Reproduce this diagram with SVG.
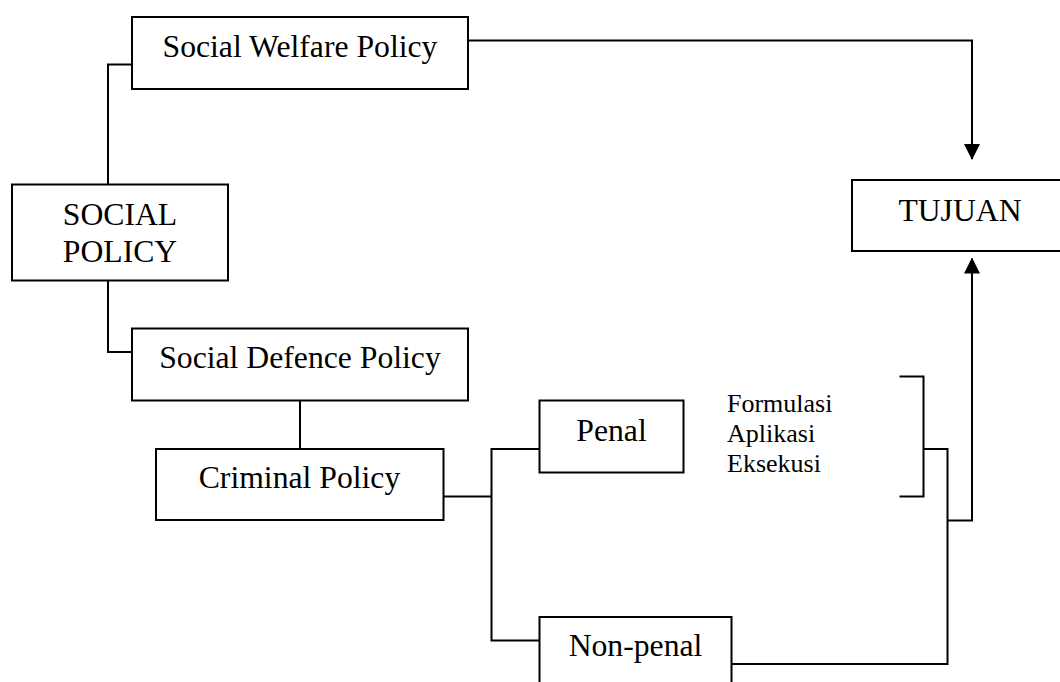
<svg xmlns="http://www.w3.org/2000/svg" width="1060" height="682" viewBox="0 0 1060 682">
  <style>
    .box { fill: #ffffff; stroke: #000000; stroke-width: 2; }
    .conn { fill: none; stroke: #000000; stroke-width: 2; }
    .lbl { font-family: "Liberation Serif", "Times New Roman", serif; font-size: 31.7px; fill: #000000; text-anchor: middle; }
    .note { font-family: "Liberation Serif", "Times New Roman", serif; font-size: 26px; fill: #000000; }
  </style>
  <defs>
    <marker id="arrow" viewBox="0 0 16 16" refX="15" refY="8" markerWidth="16" markerHeight="16" markerUnits="userSpaceOnUse" orient="auto">
      <path d="M0,0 L16,8 L0,16 z" fill="#000000"/>
    </marker>
  </defs>
  <rect width="1060" height="682" fill="#ffffff"/>

  <g id="connectors">
    <path class="conn" d="M132,64.5 H108 V184.5"/>
    <path class="conn" d="M108,280.5 V352 H132"/>
    <path class="conn" d="M300,400.5 V449"/>
    <path class="conn" d="M443.5,496.5 H491.5"/>
    <path class="conn" d="M539.5,449 H491.5 V640.5 H539.5"/>
    <path class="conn" d="M468,40.5 H972 V159" marker-end="url(#arrow)"/>
    <path class="conn" d="M899.5,376.5 H923.5 V496.5 H899.5"/>
    <path class="conn" d="M923.5,449 H947.5 V664 H731.5"/>
    <path class="conn" d="M947.5,520.5 H972 V258.5" marker-end="url(#arrow)"/>
  </g>

  <g id="social-welfare-policy">
    <rect class="box" x="132" y="17" width="336" height="72"/>
    <text class="lbl" x="300" y="57">Social Welfare Policy</text>
  </g>
  <g id="social-policy">
    <rect class="box" x="12" y="184.5" width="216" height="96"/>
    <text class="lbl" x="120" y="225">SOCIAL</text>
    <text class="lbl" x="120" y="262">POLICY</text>
  </g>
  <g id="tujuan">
    <rect class="box" x="852" y="180" width="216" height="71"/>
    <text class="lbl" x="960" y="221">TUJUAN</text>
  </g>
  <g id="social-defence-policy">
    <rect class="box" x="132" y="328.5" width="336" height="72"/>
    <text class="lbl" x="300" y="368">Social Defence Policy</text>
  </g>
  <g id="criminal-policy">
    <rect class="box" x="156" y="449" width="287.5" height="71"/>
    <text class="lbl" x="299.5" y="488">Criminal Policy</text>
  </g>
  <g id="penal">
    <rect class="box" x="539.5" y="400.5" width="144" height="72"/>
    <text class="lbl" x="611.5" y="441">Penal</text>
  </g>
  <g id="non-penal">
    <rect class="box" x="539.5" y="617" width="192" height="80"/>
    <text class="lbl" x="635.5" y="656">Non-penal</text>
  </g>
  <g id="stages">
    <text class="note" x="727" y="411.5">Formulasi</text>
    <text class="note" x="727" y="441.5">Aplikasi</text>
    <text class="note" x="727" y="471.5">Eksekusi</text>
  </g>
</svg>
